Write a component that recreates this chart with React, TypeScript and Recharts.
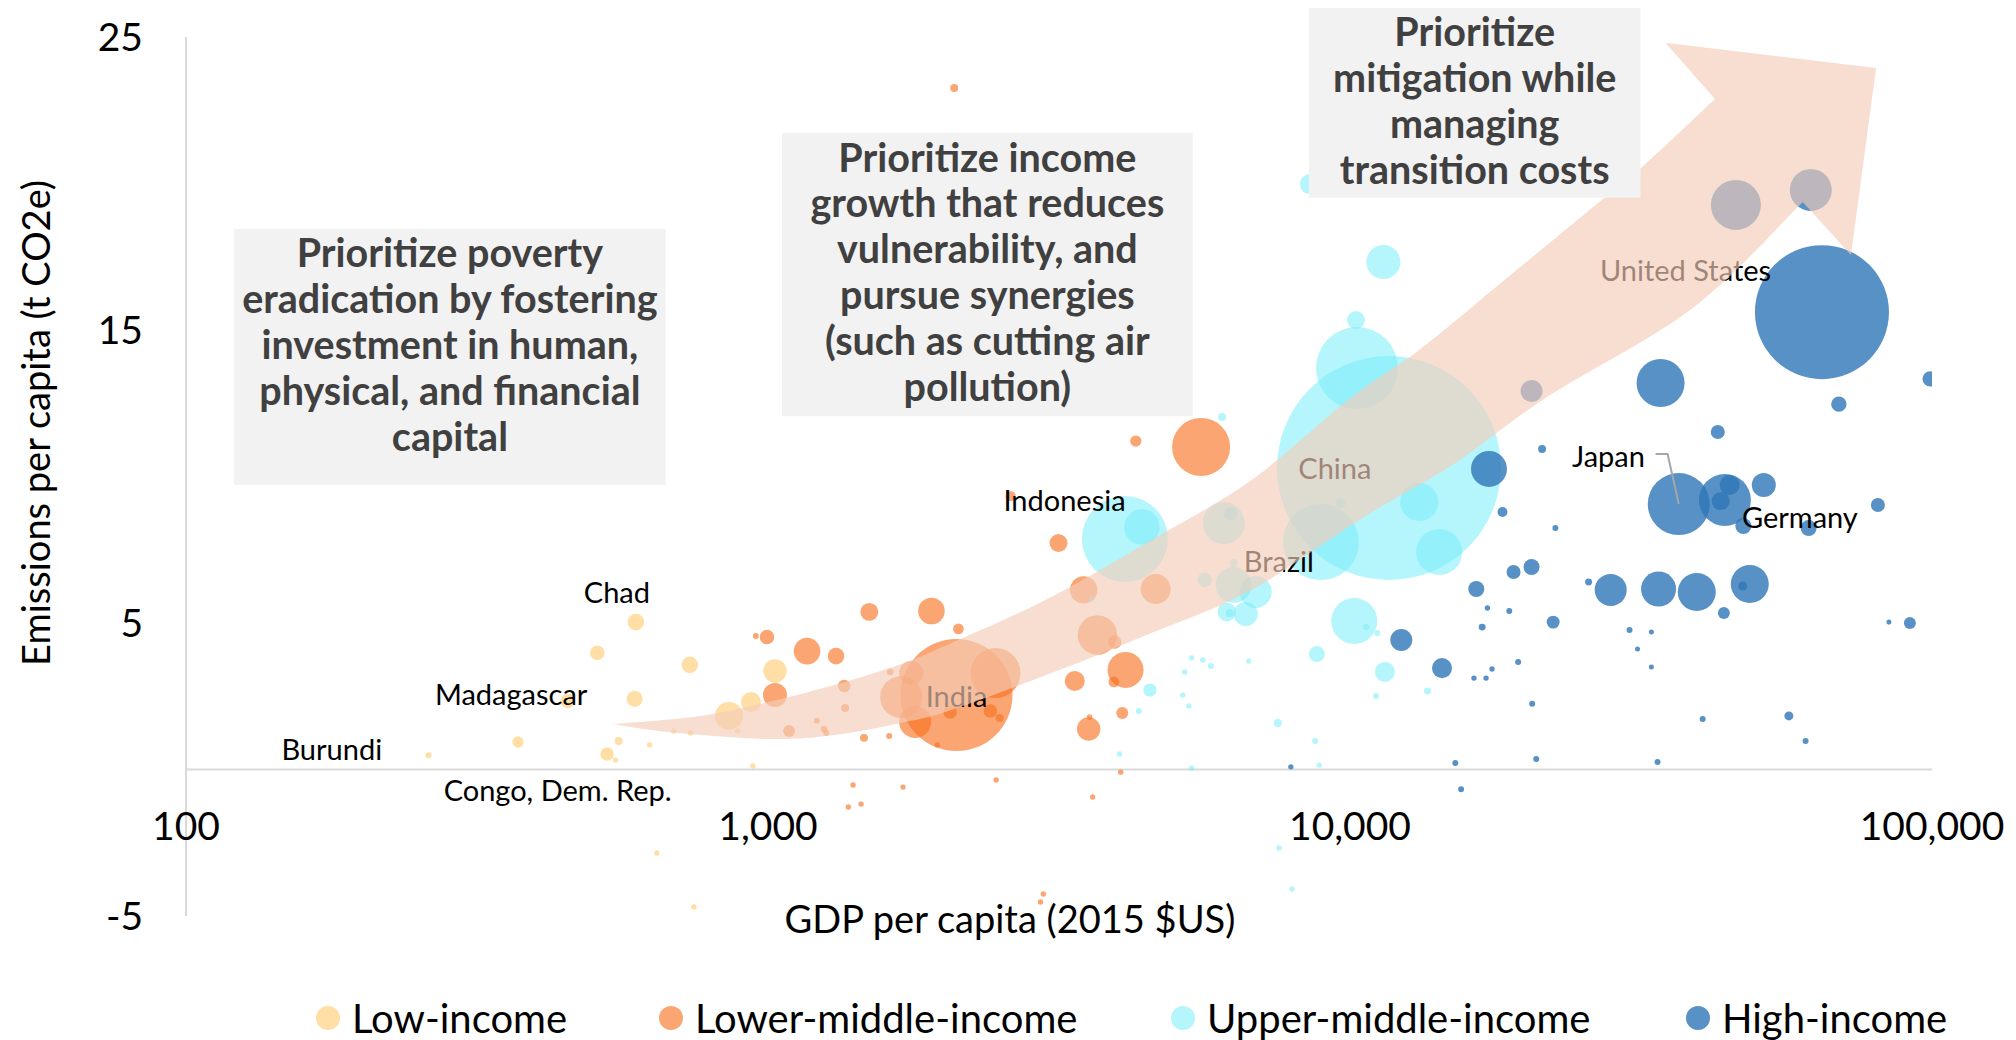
import React from 'react'
import {
  ScatterChart, Scatter, XAxis, YAxis, ZAxis,
  ReferenceLine, ReferenceArea, Legend,
} from 'recharts'

// [GDP per capita (2015 $US), emissions per capita (t CO2e), bubble size]
type Row = [number, number, number]

const FONT = 'Lato, "Open Sans", sans-serif'

const xTicks = [100, 1000, 10000, 100000]
const yTicks = [-5, 5, 15, 25]

const lowIncome: Row[] = [
  [593, 5.03, 92], [509, 3.98, 71], [734, 3.57, 92], [590, 2.41, 86],
  [453, 2.34, 71], [372, 0.94, 43], [261, 0.49, 12], [554, 0.97, 21],
  [529, 0.53, 60], [547, 0.32, 9.7], [626, 0.84, 9.7], [1028, 3.36, 183],
  [935, 2.3, 134], [857, 1.83, 262], [689, 1.31, 9.7], [736, 1.25, 9.7],
  [887, 1.31, 9.7], [942, 0.12, 9.7], [644, -2.85, 9.7], [746, -4.69, 9.7],
]

const lowerMiddle: Row[] = [
  [1493, 5.38, 108], [996, 4.52, 71], [953, 4.56, 12], [1167, 4.04, 236],
  [1309, 3.87, 92], [1028, 2.54, 193], [1352, 2.85, 53], [1357, 2.1, 21],
  [1213, 1.66, 12], [1248, 1.38, 14.6], [1259, 1.25, 12], [1462, 1.08, 21],
  [1615, 1.14, 12], [1622, 3.33, 14.6], [1400, -0.53, 9.7], [1087, 1.31, 48],
  [1909, 5.41, 236], [2124, 4.8, 38], [2108, 2.54, 4193], [2460, 3.29, 836],
  [1762, 3.29, 193], [1694, 2.47, 590], [1790, 1.62, 342], [2056, 1.96, 60],
  [2410, 2.0, 60], [2500, 1.76, 21], [1954, 0.84, 9.7], [1706, -0.6, 9.7],
  [2466, -0.36, 9.7], [4036, -0.09, 9.7], [3613, -0.94, 9.7], [1374, -1.28, 9.7],
  [1445, -1.18, 9.7], [2972, -4.25, 9.7], [2939, -4.52, 9.7], [2089, 23.26, 21],
  [5548, 11.01, 1124], [4285, 11.21, 43], [2612, 9.33, 33], [3156, 7.73, 108],
  [3486, 6.13, 251], [4636, 6.16, 301], [3681, 4.59, 519], [3942, 4.35, 60],
  [4115, 3.4, 433], [3928, 2.99, 38], [3366, 3.02, 134], [4062, 1.93, 48],
  [3556, 1.38, 183], [3569, 1.79, 9.7],
]

const upperMiddle: Row[] = [
  [11670, 10.29, 16770], [10280, 13.7, 2247], [11410, 17.32, 386], [10240, 15.34, 108],
  [8532, 19.98, 134], [6029, 12.03, 21], [4104, 7.87, 2472], [4389, 8.28, 419],
  [6068, 8.41, 590], [6236, 8.72, 60], [8913, 7.76, 1931], [9640, 9.1, 33],
  [13150, 9.13, 483], [14230, 7.42, 707], [10170, 5.07, 707], [5627, 6.47, 71],
  [6310, 7.05, 21], [6310, 6.3, 433], [6887, 6.06, 342], [6141, 5.38, 116],
  [6622, 5.31, 193], [6207, 5.34, 21], [3597, 5.82, 9.7], [4532, 2.71, 60],
  [4338, 2.0, 12], [5343, 3.81, 9.7], [5585, 3.74, 9.7], [5768, 3.53, 12],
  [5200, 3.33, 9.7], [5160, 2.54, 9.7], [5287, 2.17, 9.7], [6700, 3.7, 9.7],
  [7516, 1.59, 21], [4018, 0.53, 9.7], [5343, 0.05, 9.7], [8854, 0.15, 9.7],
  [8713, 0.97, 12], [7553, -2.68, 9.7], [7945, -4.08, 9.7], [11090, 2.51, 12],
  [13590, 2.68, 16], [11480, 3.33, 134], [8770, 3.94, 86], [10660, 4.86, 12],
  [11140, 4.66, 12],
]

const highIncome: Row[] = [
  [64700, 15.61, 6000], [46030, 19.27, 836], [61910, 19.78, 590], [34170, 13.19, 770],
  [99280, 13.33, 79], [69180, 12.47, 79], [42850, 11.52, 66], [20510, 12.92, 162],
  [17330, 10.26, 433], [21380, 10.94, 21], [18280, 8.79, 33], [22540, 8.24, 12],
  [36720, 9.06, 1285], [44070, 9.2, 904], [44900, 9.71, 134], [43340, 9.16, 108],
  [51400, 9.71, 193], [47400, 8.31, 86], [61380, 8.24, 86], [80730, 9.03, 66],
  [20510, 6.91, 86], [19100, 6.74, 66], [16480, 6.16, 86], [25700, 6.4, 16],
  [28050, 6.13, 342], [33900, 6.16, 409], [39430, 6.06, 483], [48630, 6.33, 483],
  [47300, 6.26, 27], [43890, 5.34, 48], [17220, 5.51, 9.7], [18780, 5.41, 12],
  [16870, 4.86, 16], [22340, 5.03, 56], [30220, 4.76, 12], [32950, 4.69, 8.4],
  [31190, 4.11, 8.4], [32950, 3.5, 8.4], [19450, 3.67, 12], [17540, 3.43, 9.7],
  [16330, 3.12, 9.7], [17130, 3.12, 9.7], [84330, 5.03, 8.4], [91620, 5.0, 48],
  [20560, 2.24, 12], [40360, 1.72, 12], [56760, 1.83, 27], [60650, 0.97, 12],
  [20890, 0.36, 12], [33760, 0.26, 12], [15170, 0.22, 12], [15520, -0.67, 12],
  [7914, 0.09, 9.7], [14390, 3.46, 134], [12250, 4.42, 162],
]

// country name tags, placed where they sit in the picture
const countryLabels = [
  { name: 'Chad', gdp: 550, em: 6.06 },
  { name: 'Madagascar', gdp: 362, em: 2.61 },
  { name: 'Burundi', gdp: 178, em: 0.7 },
  { name: 'Congo, Dem. Rep.', gdp: 435, em: -0.67 },
  { name: 'Indonesia', gdp: 3232, em: 9.23 },
  { name: 'India', gdp: 2108, em: 2.54 },
  { name: 'Brazil', gdp: 7547, em: 7.15 },
  { name: 'China', gdp: 9418, em: 10.32 },
  { name: 'United States', gdp: 37720, em: 17.05 },
  { name: 'Japan', gdp: 27800, em: 10.7 },
  { name: 'Germany', gdp: 59290, em: 8.65 },
]

const japanLeader = [
  { gdp: 33500, em: 10.77 }, { gdp: 35130, em: 10.77 }, { gdp: 36720, em: 9.06 },
]

// big curved arrow: upper edge (tail -> notch), head, lower edge (notch -> near tail)
const arrowUpper: [number, number][] = [
  [541, 1.55], [767, 1.83], [1000, 2.3], [1300, 2.88], [1694, 3.6], [2066, 4.32],
  [3069, 5.89], [4560, 7.83], [6774, 9.88], [10070, 12.71], [13150, 14.32],
  [17820, 16.47], [26300, 19.23], [31920, 20.6], [42360, 22.88],
]
const arrowHead: [number, number][] = [
  [34830, 24.8], [80150, 23.94], [72580, 17.56],
]
const arrowLower: [number, number][] = [
  [59970, 19.37], [38800, 15.75], [21680, 12.68], [14990, 10.39], [10570, 8.62], [6774, 6.13],
  [4560, 4.66], [3069, 3.29], [2066, 2.03], [1694, 1.59], [1300, 1.18],
  [1000, 1.04], [673, 1.28],
]

const notes = [
  {
    x1: 121, x2: 667, y1: 9.71, y2: 18.45,
    lines: ['Prioritize poverty', 'eradication by fostering', 'investment in human,', 'physical, and financial', 'capital'],
  },
  {
    x1: 1057, x2: 5368, y1: 12.06, y2: 21.72,
    lines: ['Prioritize income', 'growth that reduces', 'vulnerability, and', 'pursue synergies', '(such as cutting air', 'pollution)'],
  },
  {
    x1: 8500, x2: 31560, y1: 19.51, y2: 25.99,
    lines: ['Prioritize', 'mitigation while', 'managing', 'transition costs'],
  },
]

const toPoints = (rows: Row[]) => rows.map(([gdp, em, size]) => ({ gdp, em, size }))

const SERIES = [
  { name: 'Low-income', data: toPoints(lowIncome), fill: '#ffd27f', opacity: 0.7 },
  { name: 'Lower-middle-income', data: toPoints(lowerMiddle), fill: '#f7711f', opacity: 0.63 },
  { name: 'Upper-middle-income', data: toPoints(upperMiddle), fill: '#78ecfa', opacity: 0.55 },
  { name: 'High-income', data: toPoints(highIncome), fill: '#2e75b6', opacity: 0.8 },
]

const fmtGdp = (v: number) => Number(v).toLocaleString('en-US')

function XTick(props: any) {
  const { x, y, payload } = props
  return (
    <text x={x} y={y - 91} textAnchor="middle" dominantBaseline="central"
      fontSize={39} fontFamily={FONT} fill="#000">
      {fmtGdp(payload.value)}
    </text>
  )
}

function vbOf(p: any) {
  return p.viewBox || { x: p.x, y: p.y, width: p.width, height: p.height }
}

const xTitle = (p: any) => {
  const vb = vbOf(p)
  return (
    <text x={vb.x + 824} y={vb.y + 2} textAnchor="middle" dominantBaseline="central"
      fontSize={38} fontFamily={FONT} fill="#000">
      GDP per capita (2015 $US)
    </text>
  )
}

const yTitle = (p: any) => {
  const vb = vbOf(p)
  const cx = vb.x + 35
  const cy = vb.y + 386
  return (
    <text x={cx} y={cy} transform={`rotate(-90, ${cx}, ${cy})`} textAnchor="middle"
      dominantBaseline="central" fontSize={38} fontFamily={FONT} fill="#000">
      Emissions per capita (t CO2e)
    </text>
  )
}

const noteText = (lines: string[]) => (p: any) => {
  const vb = vbOf(p)
  return (
    <text textAnchor="middle" fontSize={39.5} fontWeight={700} fontFamily={FONT} fill="#404040">
      {lines.map((l, i) => (
        <tspan key={i} x={vb.x + vb.width / 2} y={vb.y + 23 + i * 45.8} dominantBaseline="central">{l}</tspan>
      ))}
    </text>
  )
}

function CountryTag(props: any) {
  const { cx, cy, payload } = props
  return (
    <text x={cx} y={cy} textAnchor="middle" dominantBaseline="central"
      fontSize={29} fontFamily={FONT} fill="#000">
      {payload.name}
    </text>
  )
}

const Nothing = () => <g />

type P = { x: number; y: number }

// catmull-rom through an open run of points, as cubic segments
function spline(pts: P[]) {
  let d = ''
  for (let i = 0; i < pts.length - 1; i++) {
    const p0 = pts[Math.max(i - 1, 0)]
    const p1 = pts[i]
    const p2 = pts[i + 1]
    const p3 = pts[Math.min(i + 2, pts.length - 1)]
    const c1x = p1.x + (p2.x - p0.x) / 6
    const c1y = p1.y + (p2.y - p0.y) / 6
    const c2x = p2.x - (p3.x - p1.x) / 6
    const c2y = p2.y - (p3.y - p1.y) / 6
    d += ` C${c1x},${c1y} ${c2x},${c2y} ${p2.x},${p2.y}`
  }
  return d
}

const nUpper = arrowUpper.length
const nHead = arrowHead.length

function ArrowBody(props: any) {
  const pts: P[] = props.points || []
  if (pts.length < 3) return <g />
  const upper = pts.slice(0, nUpper)
  const head = pts.slice(nUpper, nUpper + nHead)
  const lower = [...pts.slice(nUpper + nHead), pts[0]]
  let d = `M${upper[0].x},${upper[0].y}` + spline(upper)
  head.forEach((h) => { d += ` L${h.x},${h.y}` })
  d += ` L${lower[0].x},${lower[0].y}` + spline(lower) + ' Z'
  return <path d={d} fill="#f5cdb9" fillOpacity={0.65} stroke="none" />
}

const LEGEND_LEFT = [316, 659, 1171, 1686]

function LegendBar() {
  return (
    <div style={{ position: 'relative', width: 2016, height: 44, fontFamily: FONT, fontSize: 40, color: '#000' }}>
      {SERIES.map((s, i) => (
        <div key={s.name} style={{
          position: 'absolute', left: LEGEND_LEFT[i], top: 0, height: 44,
          display: 'flex', alignItems: 'center', whiteSpace: 'nowrap',
        }}>
          <span style={{ width: 24, height: 24, borderRadius: '50%', background: s.fill, opacity: s.opacity, marginRight: 12, display: 'inline-block' }} />
          <span>{s.name}</span>
        </div>
      ))}
    </div>
  )
}

export default function App() {
  const arrowData = [...arrowUpper, ...arrowHead, ...arrowLower].map(([gdp, em]) => ({ gdp, em }))
  return (
    <div style={{ position: 'absolute', left: 0, top: 0, width: 2016, height: 1040, background: '#fff', fontFamily: FONT }}>
      <ScatterChart width={2016} height={1040} margin={{ top: 37, right: 84, bottom: 94, left: 0 }}>
        <XAxis type="number" dataKey="gdp" scale="log" domain={[100, 100000]} ticks={xTicks}
          allowDataOverflow interval={0} axisLine={false} tickLine={false} tickSize={0} tickMargin={0}
          height={30} tick={<XTick />} label={xTitle} />
        <YAxis type="number" dataKey="em" domain={[-5, 25]} ticks={yTicks} allowDataOverflow interval={0}
          width={186} axisLine={{ stroke: '#d9d9d9', strokeWidth: 2 }} tickLine={false} tickMargin={37}
          tick={{ fill: '#000', fontSize: 39, fontFamily: FONT }} label={yTitle} />
        <ZAxis type="number" dataKey="size" domain={[0, 20000]} range={[0, 47009]} />
        <ReferenceLine y={0} stroke="#d9d9d9" strokeWidth={2} />
        {SERIES.map((s) => (
          <Scatter key={s.name} name={s.name} data={s.data} fill={s.fill} fillOpacity={s.opacity}
            isAnimationActive={false} />
        ))}
        <Scatter name="labels" data={countryLabels} shape={CountryTag} legendType="none" isAnimationActive={false} />
        <Scatter name="leader" data={japanLeader} shape={Nothing} legendType="none"
          line={{ stroke: '#a6a6a6', strokeWidth: 2, fill: 'none' }} isAnimationActive={false} />
        <Scatter name="arrow" data={arrowData} shape={Nothing} legendType="none"
          line={ArrowBody} isAnimationActive={false} />
        {notes.map((n, i) => (
          <ReferenceArea key={i} x1={n.x1} x2={n.x2} y1={n.y1} y2={n.y2} fill="#f2f2f2" fillOpacity={1}
            stroke="none" ifOverflow="visible" zIndex={1500} label={noteText(n.lines)} />
        ))}
        <Legend verticalAlign="middle" layout="horizontal" content={<LegendBar />}
          wrapperStyle={{ top: 996, left: 0, width: 2016, height: 44 }} />
      </ScatterChart>
    </div>
  )
}
